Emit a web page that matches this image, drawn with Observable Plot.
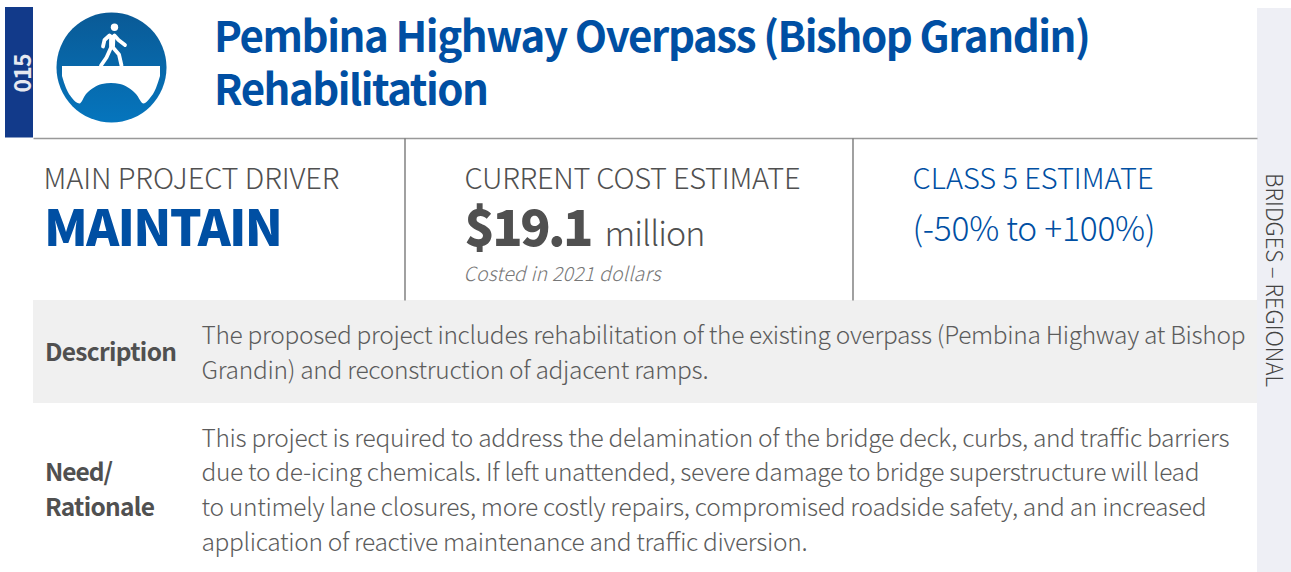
<!DOCTYPE html>
<html><head><meta charset="utf-8">
<style>html,body{margin:0;padding:0;background:#fff}svg{display:block}</style>
<script src="https://cdn.jsdelivr.net/npm/d3@7"></script>
<script src="https://cdn.jsdelivr.net/npm/@observablehq/plot@0.6"></script>
</head><body><div id="c"></div><script>
const FONT = '"Noto Sans CJK SC","Noto Sans",sans-serif';
const BLUE = "#004fa3", GREY = "#505050", BODY = "#5c5c5c";

const titleLines = ["Pembina Highway Overpass (Bishop Grandin)", "Rehabilitation"];
const projectNumber = "015";
const sectionLabel = "BRIDGES – REGIONAL";
const driverLabel = "MAIN PROJECT DRIVER", driverValue = "MAINTAIN";
const costLabel = "CURRENT COST ESTIMATE", costValue = "$19.1", costUnit = "million", costNote = "Costed in 2021 dollars";
const classLabel = "CLASS 5 ESTIMATE", classRange = "(-50% to +100%)";
const descriptionHead = "Description";
const descriptionLines = ["The proposed project includes rehabilitation of the existing overpass (Pembina Highway at Bishop", "Grandin) and reconstruction of adjacent ramps."];
const needHead = ["Need/", "Rationale"];
const needLines = ["This project is required to address the delamination of the bridge deck, curbs, and traffic barriers",
 "due to de-icing chemicals. If left unattended, severe damage to bridge superstructure will lead",
 "to untimely lane closures, more costly repairs, compromised roadside safety, and an increased",
 "application of reactive maintenance and traffic diversion."];

const bridge = [[62,66,76],[66,66,88],[72,66,98],[79.5,66,103.5],[86,66,94],[94,66,87.5],[102,66,84],[111,66,83],[120,66,84],[128,66,87.5],[136,66,94],[143.5,66,103.5],[150,66,98],[156,66,88],[160,66,76]];
const walker = [
 [[109,35],[104,39.5],[102.5,46]],
 [[110.5,36],[110.5,47],[106,57],[100.5,65]],
 [[113,36],[112.5,47],[118.5,54],[121,65]],
 [[114,35],[118,39.5],[124.5,44.5]]
];
const fitted = new Map();

function T(text, x, y, size, o = {}) {
  const lines = Array.isArray(text) ? text : [text];
  const ys = Array.isArray(y) ? y : lines.map(() => y);
  const {w, ...rest} = o;
  if (w) lines.forEach((l, i) => fitted.set(l, Array.isArray(w) ? w[i] : w));
  return Plot.text(lines, {x: () => x, y: (_, i) => ys[i], text: d => d, fontSize: size,
    fontFamily: FONT, textAnchor: "start", lineAnchor: "bottom", fill: GREY, ...rest});
}
const defs = () => {
  const s = d3.create("svg:defs");
  const g = s.append("linearGradient").attr("id", "icon").attr("x1", 0).attr("x2", 0).attr("y1", 0).attr("y2", 1);
  g.append("stop").attr("offset", 0).attr("stop-color", "#0a5a96");
  g.append("stop").attr("offset", 1).attr("stop-color", "#0575bd");
  return s.node();
};
const R = (x1, x2, y1, y2, fill) => Plot.rect([0], {x1: () => x1, x2: () => x2, y1: () => y1, y2: () => y2, fill});
const L = (x1, y1, x2, y2, stroke, w) => Plot.link([0], {x1: () => x1, y1: () => y1, x2: () => x2, y2: () => y2, stroke, strokeWidth: w});

const chart = Plot.plot({
  width: 1291, height: 572, margin: 0,
  x: {domain: [0, 1291], range: [0, 1291], axis: null},
  y: {domain: [0, 572], range: [0, 572], axis: null},
  style: {background: "#fff", fontFamily: FONT},
  marks: [
    defs,
    R(1257, 1291, 8, 572, "#eeeff5"),
    R(33, 1257, 300, 403, "#f0f0f0"),
    R(5, 33, 7, 137.5, "#123a8a"),
    L(33, 138, 1257, 138, "#999", 1.5),
    L(404.5, 138, 404.5, 300, "#6e6e6e", 1.3),
    L(852.5, 138, 852.5, 300, "#6e6e6e", 1.3),
    Plot.dot([0], {x: () => 111, y: () => 67, r: 55, fill: "url(#icon)"}),
    Plot.areaY(bridge, {x: d => d[0], y1: d => d[1], y2: d => d[2], fill: "#fff", curve: "monotone-x"}),
    Plot.dot([0], {x: () => 114, y: () => 26.7, r: 3.7, fill: "#fff"}),
    ...walker.map(p => Plot.line(p, {x: d => d[0], y: d => d[1], stroke: "#fff", strokeWidth: 3.8, strokeLinecap: "round", strokeLinejoin: "round"})),
    T(projectNumber, 30, 92, 23, {rotate: -90, fill: "#e6e8f0", fontWeight: 700, w: 39}),
    T(titleLines, 213.5, [51, 104], 42, {fill: BLUE, fontWeight: 600, w: [877, 275]}),
    T(driverLabel, 43, 188, 29, {fontWeight: 300, w: 296}),
    T(driverValue, 43.5, 245.5, 50, {fill: BLUE, fontWeight: 900, w: 239}),
    T(costLabel, 464, 188, 29, {fontWeight: 300, w: 336}),
    T(costValue, 464, 245.5, 50, {fontWeight: 900, w: 129}),
    T(costUnit, 604, 245, 34, {fontWeight: 300, w: 101}),
    T(costNote, 463, 280, 19.5, {fontWeight: 300, fontStyle: "italic", fill: "#777", w: 197}),
    T(classLabel, 912, 188, 29, {fill: BLUE, fontWeight: 300, w: 241}),
    T(classRange, 912, 240, 33.5, {fill: BLUE, fontWeight: 300, w: 243}),
    T(descriptionHead, 44.5, 360, 24.5, {fontWeight: 600, w: 132}),
    T(descriptionLines, 201, [343, 378], 24.5, {fontWeight: 300, fill: BODY, w: [1044, 507]}),
    T(needHead, 44.5, [480, 515], 24.5, {fontWeight: 600, w: [68, 110]}),
    T(needLines, 201, [446, 480, 515, 550], 24.5, {fontWeight: 300, fill: BODY, w: [1028, 998, 1005, 606]}),
    T(sectionLabel, 1265, 172.5, 22.5, {rotate: 90, fontWeight: 300, fill: "#444", w: 214})
  ]
});
chart.querySelectorAll("text").forEach(t => {
  const w = fitted.get(t.textContent);
  if (w) { t.setAttribute("textLength", w); t.setAttribute("lengthAdjust", "spacing"); }
});
document.getElementById("c").append(chart);
</script></body></html>
